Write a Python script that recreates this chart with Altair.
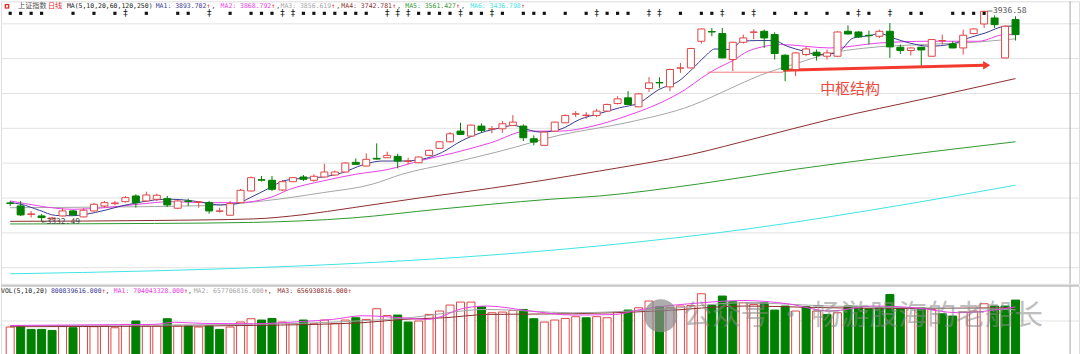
import altair as alt
import pandas as pd

# ---------------- data ----------------
opens = [3385.8, 3377.2, 3352.8, 3348.5, 3340.0, 3348.5, 3362.9, 3345.7, 3362.9, 3377.2,
         3383.8, 3389.5, 3405.8, 3391.5, 3396.4, 3398.1, 3370.6, 3391.5, 3387.8, 3386.6,
         3362.0, 3350.5, 3386.6, 3420.2, 3452.5, 3450.8, 3423.0, 3446.8, 3460.3, 3450.8,
         3460.3, 3466.0, 3474.6, 3502.4, 3491.8, 3513.8, 3515.6, 3519.6, 3505.2, 3501.2,
         3522.4, 3542.5, 3561.4, 3592.0, 3577.7, 3606.4, 3597.8, 3598.6, 3608.4, 3606.4,
         3570.0, 3551.1, 3592.0, 3615.8, 3640.8, 3637.0, 3637.0, 3649.4, 3671.4, 3687.5,
         3661.7, 3714.4, 3731.6, 3719.0, 3772.5, 3773.4, 3849.9, 3877.7, 3872.0, 3797.5,
         3847.0, 3875.7, 3878.5, 3869.1, 3809.8, 3768.8, 3811.8, 3818.4, 3806.9, 3806.9,
         3878.5, 3876.5, 3867.1, 3864.2, 3878.5, 3832.7, 3823.3, 3832.7, 3806.9, 3851.3,
         3842.2, 3830.7, 3872.0, 3899.5, 3916.7, 3802.1, 3912.1]
highs = [3391.5, 3391.5, 3362.9, 3354.3, 3345.7, 3370.6, 3365.7, 3370.6, 3385.8, 3391.5,
         3391.5, 3405.8, 3410.7, 3418.1, 3412.4, 3405.8, 3394.4, 3398.1, 3391.5, 3391.5,
         3372.3, 3391.5, 3425.9, 3461.7, 3463.1, 3463.1, 3451.7, 3460.3, 3466.0, 3468.0,
         3498.4, 3478.9, 3503.2, 3513.8, 3528.2, 3556.8, 3532.7, 3527.0, 3515.6, 3519.0,
         3539.0, 3563.4, 3589.2, 3615.8, 3610.7, 3614.1, 3606.4, 3620.7, 3637.9, 3611.2,
         3579.7, 3590.6, 3619.3, 3639.3, 3649.4, 3646.5, 3655.9, 3670.8, 3692.3, 3706.7,
         3700.9, 3746.8, 3746.8, 3771.1, 3787.7, 3831.3, 3887.1, 3888.0, 3888.0, 3848.5,
         3869.1, 3884.3, 3883.4, 3875.7, 3812.7, 3818.4, 3835.6, 3826.1, 3826.1, 3878.5,
         3895.7, 3878.5, 3880.6, 3883.4, 3902.3, 3840.4, 3832.7, 3834.0, 3855.6, 3869.1,
         3849.9, 3883.4, 3887.1, 3936.58, 3924.4, 3895.7, 3921.5]
lows = [3377.2, 3348.5, 3343.7, 3332.49, 3337.1, 3347.0, 3348.5, 3344.2, 3361.4, 3372.3,
        3379.0, 3386.6, 3372.3, 3390.1, 3391.5, 3374.3, 3369.2, 3377.2, 3372.3, 3355.1,
        3358.0, 3349.9, 3385.8, 3418.7, 3447.4, 3420.2, 3420.2, 3445.9, 3448.8, 3446.8,
        3458.8, 3464.6, 3473.2, 3494.6, 3490.3, 3510.4, 3514.7, 3485.2, 3496.6, 3500.4,
        3520.4, 3541.3, 3559.1, 3580.6, 3576.3, 3587.2, 3585.5, 3587.2, 3606.4, 3563.4,
        3551.1, 3549.1, 3590.6, 3615.0, 3632.2, 3627.3, 3632.2, 3647.9, 3668.5, 3666.5,
        3660.8, 3704.6, 3716.1, 3706.7, 3759.1, 3772.5, 3843.3, 3864.2, 3800.7, 3764.0,
        3843.3, 3855.6, 3830.7, 3797.5, 3735.3, 3749.6, 3806.9, 3794.6, 3797.5, 3805.5,
        3869.1, 3859.9, 3840.4, 3859.4, 3802.1, 3813.5, 3808.9, 3780.3, 3805.5, 3840.4,
        3829.9, 3811.8, 3870.0, 3888.0, 3888.0, 3801.2, 3851.9]
closes = [3384.4, 3351.4, 3354.3, 3343.7, 3342.8, 3362.9, 3351.4, 3364.9, 3382.0, 3386.6,
          3385.8, 3401.0, 3386.6, 3408.7, 3407.8, 3380.1, 3391.5, 3390.1, 3388.6, 3362.9,
          3362.9, 3383.8, 3422.2, 3458.3, 3451.1, 3425.0, 3446.8, 3458.3, 3453.7, 3462.3,
          3474.6, 3474.6, 3500.4, 3496.6, 3511.0, 3511.8, 3522.4, 3506.1, 3506.1, 3517.6,
          3536.8, 3561.4, 3584.3, 3582.6, 3609.2, 3594.0, 3598.6, 3613.0, 3617.8, 3572.9,
          3560.5, 3589.2, 3617.8, 3637.0, 3641.6, 3637.9, 3649.4, 3668.5, 3684.6, 3668.5,
          3698.9, 3730.4, 3730.4, 3768.8, 3773.4, 3829.0, 3885.1, 3876.5, 3802.1, 3847.0,
          3859.4, 3876.5, 3859.4, 3814.7, 3768.8, 3816.4, 3827.8, 3808.9, 3816.4, 3876.5,
          3870.8, 3862.2, 3865.7, 3878.5, 3833.6, 3823.3, 3830.7, 3825.0, 3854.8, 3851.9,
          3830.7, 3867.1, 3885.1, 3935.85, 3897.7, 3892.9, 3869.1]

# volume in 亿 (1e8)
volumes = [4.13, 4.28, 3.79, 3.79, 3.64, 4.28, 4.03, 4.28, 4.18, 4.28,
           4.03, 4.51, 5.00, 4.28, 4.28, 5.33, 4.28, 4.28, 4.13, 4.28,
           3.79, 4.13, 4.85, 5.33, 5.14, 5.37, 4.85, 4.65, 5.14, 4.61,
           5.14, 4.65, 5.14, 5.47, 5.23, 6.77, 5.80, 5.86, 4.85, 5.00,
           5.95, 6.44, 7.30, 7.73, 7.73, 7.06, 6.19, 6.29, 6.52, 6.67,
           5.33, 4.85, 5.14, 5.37, 5.62, 5.47, 5.62, 5.47, 6.29, 6.58,
           6.91, 7.88, 7.06, 6.91, 7.16, 7.24, 8.93, 7.30, 8.60, 7.78,
           7.63, 7.39, 7.63, 6.58, 7.16, 6.44, 7.06, 6.44, 5.95, 6.19,
           7.16, 6.91, 6.77, 6.91, 8.83, 6.91, 6.91, 6.91, 6.67, 6.05,
           5.72, 6.29, 6.44, 7.49, 7.16, 7.16, 8.02]
vol_up = ["R", "G", "G", "G", "G", "R", "G", "R", "R", "R",
          "R", "R", "G", "R", "R", "G", "R", "G", "R", "G",
          "G", "R", "R", "R", "G", "G", "R", "R", "G", "R",
          "R", "R", "R", "G", "R", "R", "R", "G", "G", "R",
          "R", "R", "R", "R", "R", "G", "R", "R", "R", "G",
          "G", "R", "R", "R", "R", "G", "R", "R", "R", "G",
          "R", "R", "G", "R", "R", "R", "R", "G", "G", "G",
          "R", "R", "G", "G", "G", "R", "G", "R", "G", "R",
          "G", "G", "G", "G", "G", "G", "R", "G", "R", "G",
          "G", "R", "R", "R", "G", "G", "G"]

# price moving averages: (bar index, value)
ma5_i = [0, 1.04, 2.77, 4.34, 5.92, 7.18, 9.07, 10.64, 12.21, 13.79, 15.36, 16.93, 18.51, 20.08,
         21.65, 22.92, 24.81, 26.06, 27.95, 29.84, 31.73, 33.62, 35.5, 37.39, 39.28, 41.17,
         43.06, 44.95, 46.84, 48.06, 49.36, 50.61, 52.5, 54.39, 56.28, 58.17, 60.06, 61.95,
         63.83, 65.09, 66.36, 67.3, 68.87, 69.81, 71.39, 72.96, 74.18, 75.8, 77.05, 78.94,
         80.52, 82.09, 83.03, 84.3, 85.86, 87.75, 89.96, 91.53, 93.11, 95.0, 96.0]
ma5_v = [3386.6, 3382.0, 3365.0, 3350.0, 3349.0, 3353.0, 3365.0, 3377.2, 3386.6, 3394.4, 3396.4,
         3393.5, 3386.6, 3380.0, 3383.8, 3401.0, 3429.6, 3448.8, 3456.5, 3460.3, 3472.6, 3494.6,
         3506.1, 3506.1, 3511.0, 3529.9, 3563.4, 3587.2, 3601.5, 3608.4, 3596.9, 3589.2, 3596.9,
         3625.6, 3642.8, 3658.8, 3673.1, 3711.5, 3735.3, 3768.8, 3806.9, 3827.8, 3826.1, 3849.9,
         3851.9, 3851.9, 3835.6, 3821.3, 3811.8, 3816.4, 3859.4, 3866.2, 3872.0, 3859.4, 3845.0,
         3835.6, 3842.2, 3859.4, 3873.7, 3892.9, 3893.7]
ma10_i = [0, 2.77, 4.34, 5.92, 9.07, 12.21, 15.36, 18.51, 21.65, 24.81, 26.7, 29.84, 32.98,
          36.14, 39.28, 42.43, 45.89, 49.36, 52.5, 55.65, 58.8, 61.95, 64.47, 66.03, 67.3,
          69.19, 70.44, 71.39, 73.56, 78.28, 83.0, 87.72, 92.45, 95.0, 96.0]
ma10_v = [3391.5, 3377.2, 3370.6, 3367.7, 3372.3, 3382.0, 3389.5, 3386.6, 3386.6, 3401.0,
          3425.0, 3448.8, 3468.0, 3482.3, 3508.1, 3529.9, 3558.5, 3592.0, 3592.0, 3606.4,
          3635.0, 3671.4, 3711.5, 3744.8, 3768.8, 3797.5, 3821.3, 3830.7, 3840.4, 3830.7,
          3845.0, 3849.9, 3849.9, 3869.1, 3868.8]
ma20_i = [0, 9.07, 18.51, 24.17, 29.84, 34.56, 37.39, 42.12, 46.84, 52.5, 58.8, 65.09,
          68.84, 71.39, 75.16, 78.28, 81.49, 87.72, 92.16, 95.66, 96.0]
ma20_v = [3372.0, 3374.0, 3378.0, 3391.5, 3415.3, 3439.4, 3468.0, 3500.4, 3534.8, 3580.6,
          3615.8, 3665.7, 3715.3, 3749.6, 3786.9, 3815.5, 3829.8, 3841.3, 3847.0, 3856.0, 3856.6]
ma60_i = [0, 13.79, 23.23, 27.95, 32.67, 39.28, 45.89, 56.28, 65.06, 71.39, 78.28, 87.72, 96.0]
ma60_v = [3333.0, 3335.5, 3340.0, 3352.0, 3372.0, 3401.0, 3427.9, 3477.5, 3525.3, 3572.9,
          3625.6, 3687.5, 3742.8]
ma120_i = [0, 13.79, 23.23, 32.67, 40.86, 45.89, 51.56, 56.28, 65.72, 75.16, 84.6, 96.0]
ma120_v = [3325.5, 3327.0, 3330.0, 3342.8, 3367.7, 3382.0, 3396.4, 3405.8, 3440.2, 3483.2,
           3520.4, 3561.4]
ma250_i = [0, 13.79, 27.95, 42.12, 56.28, 70.44, 84.6, 96.0]
ma250_v = [3182.4, 3191.0, 3205.3, 3228.2, 3262.6, 3311.3, 3377.2, 3436.8]

# volume moving averages
vma5_i = [0, 9.07, 13.79, 15.68, 18.51, 23.23, 27.95, 30.78, 33.62, 37.39, 39.85, 43.53,
          45.57, 49.67, 53.73, 57.79, 60.25, 66.01, 70.07, 74.22, 78.28, 82.34, 86.4, 90.56,
          95.47, 96.0]
vma5_v = [4.36, 4.46, 4.51, 4.82, 4.65, 4.61, 4.94, 5.23, 5.76, 5.47, 5.23, 6.91, 7.16, 6.44,
          5.86, 5.95, 6.67, 7.63, 7.96, 7.49, 6.44, 7.16, 6.91, 6.19, 6.91, 7.04]
vma10_i = [0, 9, 18.5, 28, 33.6, 37.39, 45.57, 53.73, 61.92, 70.07, 78.28, 86.45, 95.44, 96.0]
vma10_v = [4.32, 4.39, 4.46, 4.68, 5.04, 5.37, 6.67, 6.19, 6.67, 7.63, 7.16, 6.91, 6.67, 6.58]
vma20_i = [0, 13.8, 23.2, 33.6, 37.39, 41.46, 45.57, 53.73, 61.92, 70.07, 78.28, 86.45, 95.44, 96.0]
vma20_v = [4.18, 4.25, 4.36, 4.75, 5.23, 5.47, 5.95, 6.05, 6.44, 7.16, 6.91, 6.81, 6.91, 6.57]

grid_prices = [3200, 3300, 3400, 3500, 3600, 3700, 3800, 3900]
vol_grid = [5.0]

square_marks = [0, 1, 2, 3, 6, 8, 10, 13, 16, 17, 21, 23, 24, 25, 28, 29, 30, 31, 32, 33, 34,
                39, 40, 41, 42, 44, 45, 47, 49, 50, 51, 53, 55, 57, 58, 59, 64, 66, 67, 70,
                73, 75, 76, 78, 80, 82, 86, 87, 90, 91, 92, 93]
dagger_marks = [11, 19, 26, 27, 36, 37, 38, 43, 46, 56, 61, 62, 68, 71, 81, 84]

# arrow annotation (bar index, price)
thin_i = [66.6, 73.8]
thin_v = [3761.0, 3761.0]
arrow_i = [73.8, 93.0]
arrow_v = [3767.0, 3781.0]

ma_labels = ["MA1: 3893.702", "MA2: 3868.792", "MA3: 3856.619", "MA4: 3742.781",
             "MA5: 3561.427", "MA6: 3436.798"]
vol_labels = ["800839616.000", "MA1: 704043328.000", "MA2: 657706816.000", "MA3: 656930816.000"]

# ---------------- styling ----------------
W = 1080
H1 = 283
H2 = 71
PX_PER_BAR = 10.59
XDOM = [-0.4, -0.4 + W / PX_PER_BAR]
PDOM = [3964.5 - 2.865 * H1, 3964.5]
VDOM = [-0.144, 10.08]
RED = "#e04646"
GREEN = "#008000"
NAVY = "#3a3a96"
MAGENTA = "#e840e8"
GRAY = "#a6a6a6"
BROWN = "#8c2e2e"
MGREEN = "#2f9a2f"
CYAN = "#40e4e4"
MONO = "DejaVu Sans Mono"
CJK = "Noto Sans CJK SC"
FS = 6.5
CW = 0.602 * FS

xs = alt.Scale(domain=XDOM, nice=False, zero=False)
ps = alt.Scale(domain=PDOM, nice=False, zero=False)
vs = alt.Scale(domain=VDOM, nice=False, zero=False)

df = pd.DataFrame({"i": list(range(len(opens))), "open": opens, "high": highs,
                   "low": lows, "close": closes})
df["up"] = df["close"] >= df["open"]
up_df = df[df["up"]]
dn_df = df[~df["up"]]

vdf = pd.DataFrame({"i": list(range(len(volumes))), "vol": volumes,
                    "up": [c == "R" for c in vol_up]})
vdf["zero"] = 0.0


def X(field="i"):
    return alt.X(f"{field}:Q", scale=xs, axis=None)


def PY(field):
    return alt.Y(f"{field}:Q", scale=ps, axis=None)


def VY(field):
    return alt.Y(f"{field}:Q", scale=vs, axis=None)


def line(ii, vv, color, yfun, width=1.0):
    d = pd.DataFrame({"i": ii, "v": vv})
    return alt.Chart(d).mark_line(color=color, strokeWidth=width, interpolate="monotone").encode(
        x=X(), y=yfun("v"))


def label(t, px, py, color, size=FS, font=MONO, align="left", opacity=1.0):
    return alt.Chart(pd.DataFrame({"t": [t]})).mark_text(
        align=align, baseline="middle", fontSize=size, font=font, color=color,
        opacity=opacity).encode(x=alt.value(px), y=alt.value(py), text="t:N")


# ---------------- top (price) panel ----------------
grid = alt.Chart(pd.DataFrame({"p": grid_prices})).mark_rule(
    color="#e2e2e2", strokeWidth=1).encode(y=PY("p"))
border = alt.Chart(pd.DataFrame({"i": [XDOM[1] - 4 / PX_PER_BAR]})).mark_rule(
    color="#a8a8a8", strokeWidth=1).encode(x=X())

ma_lines = [
    line(ma250_i, ma250_v, CYAN, PY),
    line(ma120_i, ma120_v, MGREEN, PY),
    line(ma60_i, ma60_v, BROWN, PY),
    line(ma20_i, ma20_v, GRAY, PY),
    line(ma10_i, ma10_v, MAGENTA, PY),
    line(ma5_i, ma5_v, NAVY, PY),
]

wick_up = alt.Chart(up_df).mark_rule(color=RED, strokeWidth=1).encode(
    x=X(), y=PY("low"), y2="high:Q")
wick_dn = alt.Chart(dn_df).mark_rule(color=GREEN, strokeWidth=1).encode(
    x=X(), y=PY("low"), y2="high:Q")
body_up = alt.Chart(up_df).mark_bar(size=7, fill="white", stroke=RED, strokeWidth=1).encode(
    x=X(), y=PY("open"), y2="close:Q")
body_dn = alt.Chart(dn_df).mark_bar(size=7, fill=GREEN, stroke=GREEN, strokeWidth=1).encode(
    x=X(), y=PY("open"), y2="close:Q")

sq = alt.Chart(pd.DataFrame({"i": square_marks})).mark_point(
    shape="square", filled=True, size=10, color="#111111", opacity=1).encode(
    x=X(), y=alt.value(12))
dg = alt.Chart(pd.DataFrame({"i": dagger_marks, "t": ["‡"] * len(dagger_marks)})).mark_text(
    fontSize=9, font=MONO, color="#111111", baseline="middle").encode(
    x=X(), y=alt.value(12), text="t:N")

thin = alt.Chart(pd.DataFrame({"i": thin_i, "v": thin_v})).mark_line(
    color="#f08080", strokeWidth=1).encode(x=X(), y=PY("v"))
arrow = alt.Chart(pd.DataFrame({"i": arrow_i, "v": arrow_v})).mark_line(
    color="#f23a2e", strokeWidth=3).encode(x=X(), y=PY("v"))
head = alt.Chart(pd.DataFrame({"i": [arrow_i[1] + 0.25], "v": [arrow_v[1]]})).mark_point(
    shape="triangle-right", filled=True, size=70, color="#f23a2e", opacity=1).encode(
    x=X(), y=PY("v"))
zs = alt.Chart(pd.DataFrame({"i": [80.2], "v": [3712.0], "t": ["中枢结构"]})).mark_text(
    font=CJK, fontSize=15, color="#ec4a3c", align="center", baseline="middle").encode(
    x=X(), y=PY("v"), text="t:N")

hi_line = alt.Chart(pd.DataFrame({"i": [93.3, 93.8], "v": [3936.58, 3936.58]})).mark_line(
    color="#777777", strokeWidth=1).encode(x=X(), y=PY("v"))
hi_txt = alt.Chart(pd.DataFrame({"i": [93.85], "v": [3936.58], "t": ["3936.58"]})).mark_text(
    font=MONO, fontSize=8, color="#555555", align="left", baseline="middle").encode(
    x=X(), y=PY("v"), text="t:N")
lo_txt = alt.Chart(pd.DataFrame({"i": [3.0], "v": [3332.49], "t": ["←3332.49"]})).mark_text(
    font=MONO, fontSize=8, color="#444444", align="left", baseline="middle").encode(
    x=X(), y=PY("v"), text="t:N")

header = [
    alt.Chart(pd.DataFrame({"a": [1]})).mark_point(shape="square", filled=True, size=22,
                                                   color="#e03030", opacity=1).encode(
        x=alt.value(6), y=alt.value(5)),
    alt.Chart(pd.DataFrame({"a": [1]})).mark_point(shape="square", filled=True, size=4,
                                                   color="white", opacity=1).encode(
        x=alt.value(6), y=alt.value(5)),
    label("上证指数", 17, 5, "#555555", size=7.2, font=CJK),
    label("日线", 47, 5, "#e03030", size=7.2, font=CJK),
    label("MA(5,10,20,60,120,250)", 66, 5, "#222222"),
]
ma_cols = [NAVY, MAGENTA, GRAY, BROWN, MGREEN, CYAN]
starts = [155, 220, 280, 341, 405, 470]
for t, c, s in zip(ma_labels, ma_cols, starts):
    header.append(label(t, s, 5, c))
    header.append(label("↑", s + len(t) * CW, 5, "#e02020"))
for s in starts[:-1]:
    header.append(label(",", s + 14 * CW + 1, 5, "#444444"))

top = alt.layer(grid, border, *ma_lines, thin, arrow, head, wick_up, wick_dn, body_up, body_dn,
                sq, dg, zs, hi_line, hi_txt, lo_txt, *header).properties(width=W, height=H1)

# ---------------- bottom (volume) panel ----------------
vgrid = alt.Chart(pd.DataFrame({"v": vol_grid})).mark_rule(color="#e2e2e2", strokeWidth=1).encode(
    y=VY("v"))
vtop = alt.Chart(pd.DataFrame({"v": [VDOM[1]]})).mark_rule(color="#b0b0b0", strokeWidth=1).encode(
    y=VY("v"))
vborder = alt.Chart(pd.DataFrame({"i": [XDOM[1] - 4 / PX_PER_BAR]})).mark_rule(
    color="#a8a8a8", strokeWidth=1).encode(x=X())
vbar_up = alt.Chart(vdf[vdf["up"]]).mark_bar(size=8, fill="white", stroke=RED, strokeWidth=1).encode(
    x=X(), y=VY("vol"), y2="zero:Q")
vbar_dn = alt.Chart(vdf[~vdf["up"]]).mark_bar(size=8, fill=GREEN, stroke=GREEN, strokeWidth=1).encode(
    x=X(), y=VY("vol"), y2="zero:Q")
vlines = [line(vma20_i, vma20_v, BROWN, VY), line(vma10_i, vma10_v, GRAY, VY),
          line(vma5_i, vma5_v, MAGENTA, VY)]

vheader = [label("VOL(5,10,20)", 0, 5, "#222222")]
vcols = [NAVY, MAGENTA, GRAY, BROWN]
vstarts = [50, 113, 193, 277]
for t, c, s in zip(vol_labels, vcols, vstarts):
    vheader.append(label(t, s, 5, c))
    vheader.append(label("↑", s + len(t) * CW, 5, "#e02020"))
    if s != vstarts[-1]:
        vheader.append(label(",", s + (len(t) + 1) * CW, 5, "#444444"))

wm_icon = alt.Chart(pd.DataFrame({"a": [1]})).mark_point(
    shape="circle", filled=True, size=1100, color="#8a8a8a", opacity=0.7).encode(
    x=alt.value(661), y=alt.value(30))
wm_txt = label("公众号 · 畅游股海的老船长", 683, 30, "#8a8a8a", size=29, font=CJK, opacity=0.55)

bottom = alt.layer(vgrid, vtop, vborder, vbar_up, vbar_dn, *vlines, *vheader, wm_icon, wm_txt
                   ).properties(width=W, height=H2)

chart = alt.vconcat(top, bottom, spacing=0).properties(padding=0).configure_view(
    stroke=None).configure(background="white")
chart.save("out.html", embed_options={"renderer": "svg", "actions": False})
